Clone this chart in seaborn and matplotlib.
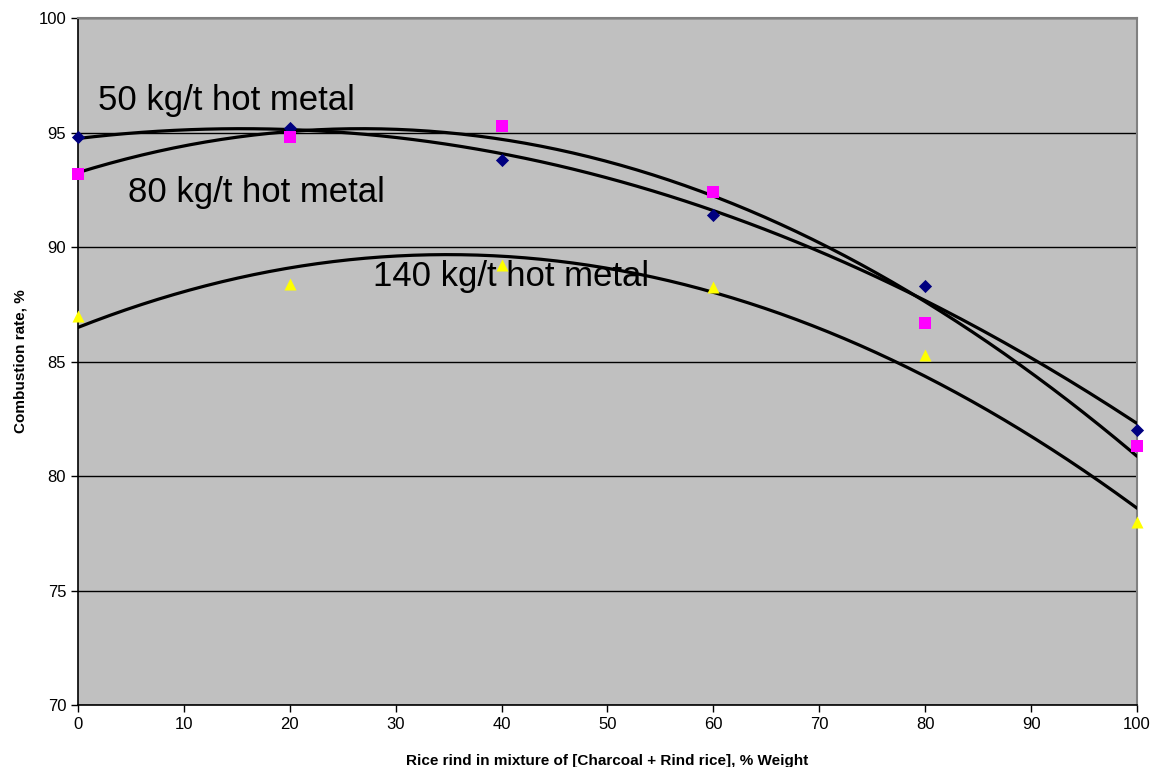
import numpy as np
import pandas as pd
import matplotlib
matplotlib.use("Agg")
import matplotlib.pyplot as plt
import seaborn as sns

# rice rind share, % weight
rind = [0, 20, 40, 60, 80, 100]

# combustion rate, %
rate_50 = [94.8, 95.2, 93.8, 91.4, 88.3, 82.0]
rate_80 = [93.2, 94.8, 95.3, 92.4, 86.7, 81.3]
rate_140 = [87.0, 88.4, 89.2, 88.25, 85.3, 78.0]

series_names = ["50 kg/t hot metal", "80 kg/t hot metal", "140 kg/t hot metal"]

sns.set_style("white")
plt.rcParams['font.family'] = ['Liberation Sans', 'DejaVu Sans']
plt.rcParams['text.color'] = 'black'
plt.rcParams['axes.labelcolor'] = 'black'

df = pd.DataFrame({
    'rind': rind * 3,
    'rate': rate_50 + rate_80 + rate_140,
    'series': np.repeat(series_names, len(rind)),
})

fig = plt.figure(figsize=(11.55, 7.67), dpi=100)
ax = fig.add_axes([0.0675, 0.0808, 0.9169, 0.8957])
ax.set_facecolor('#C0C0C0')

# second order trend lines, like the spreadsheet trendlines
xs = np.linspace(0, 100, 200)
for name in series_names:
    sub = df[df['series'] == name]
    coef = np.polyfit(sub['rind'], sub['rate'], 2)
    sns.lineplot(x=xs, y=np.polyval(coef, xs), color='black', lw=2.3,
                 ax=ax, zorder=3)

palette = {series_names[0]: '#000080', series_names[1]: '#FF00FF',
           series_names[2]: '#FFFF00'}
markers = {series_names[0]: 'D', series_names[1]: 's', series_names[2]: '^'}
sizes = {series_names[0]: 45, series_names[1]: 65, series_names[2]: 75}
for name in series_names:
    sub = df[df['series'] == name]
    sns.scatterplot(data=sub, x='rind', y='rate', color=palette[name],
                    marker=markers[name], s=sizes[name], linewidth=0,
                    ax=ax, zorder=4, clip_on=False, legend=False)

ax.text(1.9, 96.4, series_names[0], fontsize=25, va='center', ha='left')
ax.text(4.7, 92.4, series_names[1], fontsize=25, va='center', ha='left')
ax.text(27.9, 88.7, series_names[2], fontsize=25, va='center', ha='left')

ax.set_xlim(0, 100)
ax.set_ylim(70, 100)
ax.set_xticks(range(0, 101, 10))
ax.set_yticks(range(70, 101, 5))
ax.yaxis.grid(True, color='black', lw=1)
ax.set_axisbelow(True)
ax.tick_params(axis='both', direction='out', length=5, width=1,
               labelsize=12, colors='black', bottom=True, left=True)

for side in ['left', 'bottom']:
    ax.spines[side].set_color('black')
    ax.spines[side].set_linewidth(1.2)
for side in ['top', 'right']:
    ax.spines[side].set_color('#808080')
    ax.spines[side].set_linewidth(1.5)

ax.set_xlabel('Rice rind in mixture of [Charcoal + Rind rice], % Weight',
              fontsize=11, fontweight='bold', labelpad=16)
ax.set_ylabel('Combustion rate, %', fontsize=11, fontweight='bold',
              labelpad=8)

fig.savefig('out.png', dpi=100)
